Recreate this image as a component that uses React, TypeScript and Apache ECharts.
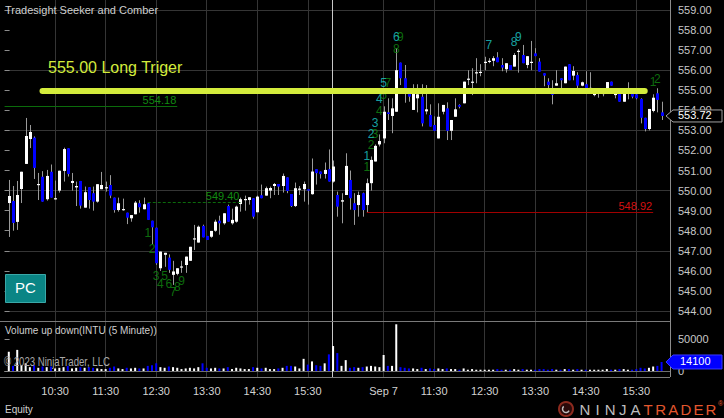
import React, { useEffect, useRef } from "react";
import * as echarts from "echarts";

// ---------- data (5-minute bars, Sep 6 and Sep 7) ----------
const opens = [
  549.38, 549.48, 548.44, 550.08, 551.33, 552.57, 552.64, 550.30, 550.69, 549.57,
  550.94, 549.60, 550.00, 550.98, 552.11, 550.38, 550.16, 550.48, 549.15, 550.17,
  549.87, 549.45, 550.07, 550.15, 550.28, 549.65, 549.03, 549.07, 548.90, 548.62,
  548.82, 549.37, 549.07, 549.37, 548.50, 548.15, 546.13, 546.80, 546.66, 545.80,
  545.85, 546.20, 546.29, 546.50, 547.60, 547.41, 548.24, 547.74, 547.70, 548.00,
  548.50, 548.37, 549.23, 548.37, 548.45, 549.33, 549.57, 549.53, 549.62, 548.92,
  549.77, 549.75, 550.00, 550.23, 550.33, 550.23, 550.66, 549.83, 549.23, 550.08,
  550.07, 550.07, 549.82, 551.07, 550.95, 550.83, 551.07, 550.45,
  549.78, 549.45, 549.78, 550.53, 549.37, 549.28, 549.87, 549.28, 550.37, 551.45,
  552.30, 552.60, 553.90, 553.72, 553.93, 556.38, 555.60, 554.98, 554.02, 554.60,
  554.68, 553.95, 553.77, 553.27, 552.60, 553.93, 554.10, 552.98, 553.68, 554.27,
  554.35, 555.52, 555.38, 555.88, 555.90, 556.40, 556.42, 556.47, 556.64, 556.26,
  556.05, 556.26, 556.18, 556.95, 556.76, 556.26, 556.40, 556.84, 556.43, 555.85,
  555.43, 554.93, 555.23, 555.60, 555.35, 556.30, 555.73, 555.76, 555.23, 555.30,
  555.10, 554.80, 554.90, 554.85, 554.95, 555.43, 554.80, 554.93, 554.43, 554.90,
  554.93, 554.80, 554.57, 553.63, 553.07, 553.97, 554.85, 553.90,
];
const closes = [
  549.73, 548.39, 549.78, 550.94, 552.72, 552.92, 551.13, 550.33, 549.45, 550.73,
  549.65, 549.62, 550.99, 552.07, 550.83, 550.48, 550.23, 549.25, 549.92, 549.53,
  549.45, 550.32, 550.28, 550.17, 549.75, 549.03, 549.37, 549.08, 548.65, 548.78,
  549.40, 549.17, 549.32, 548.54, 548.17, 546.38, 546.96, 546.90, 546.05, 545.97,
  546.13, 546.22, 546.71, 547.20, 547.62, 548.20, 547.67, 547.54, 547.99, 548.45,
  548.37, 548.87, 548.45, 548.54, 549.20, 549.57, 549.58, 549.67, 548.70, 549.70,
  549.62, 550.12, 550.13, 550.33, 550.20, 550.73, 549.98, 549.23, 550.12, 550.10,
  550.33, 550.00, 550.95, 550.87, 550.82, 551.03, 550.45, 551.20,
  549.20, 549.52, 551.23, 549.62, 549.03, 549.78, 549.03, 550.37, 551.53, 552.23,
  552.47, 553.93, 553.82, 554.10, 556.00, 555.60, 555.10, 554.68, 554.93, 554.80,
  553.35, 554.05, 553.19, 552.98, 553.68, 554.27, 552.98, 553.52, 554.05, 554.18,
  555.43, 555.58, 555.43, 555.90, 555.92, 556.42, 556.47, 556.60, 556.40, 556.13,
  556.35, 556.01, 556.76, 556.97, 556.35, 556.70, 556.42, 556.70, 555.93, 555.73,
  555.26, 554.77, 555.35, 555.50, 556.18, 555.50, 555.96, 555.23, 555.40, 554.93,
  555.12, 554.82, 554.92, 554.87, 555.41, 555.23, 554.82, 554.43, 554.96, 554.92,
  554.68, 554.60, 553.63, 553.07, 554.07, 554.63, 554.52, 553.72,
];
const lows = [
  547.69, 548.00, 548.04, 549.38, 551.33, 552.12, 550.58, 549.53, 549.45, 549.50,
  549.65, 549.55, 549.90, 550.45, 550.70, 550.00, 549.23, 549.10, 549.15, 549.10,
  549.00, 549.40, 550.07, 549.95, 549.62, 548.90, 548.95, 549.00, 548.33, 548.45,
  548.82, 548.90, 549.07, 548.54, 547.33, 546.30, 546.00, 546.20, 545.90, 545.30,
  545.78, 545.90, 545.90, 546.50, 547.04, 547.41, 547.67, 547.54, 547.65, 547.95,
  547.80, 548.30, 548.45, 548.30, 548.40, 548.95, 549.00, 549.30, 548.60, 548.92,
  549.62, 549.75, 549.62, 549.78, 549.78, 549.90, 549.87, 549.18, 549.18, 549.78,
  549.45, 549.30, 549.80, 550.30, 550.60, 550.60, 550.45, 550.40,
  548.70, 548.37, 549.78, 549.05, 548.29, 548.70, 548.70, 548.90, 550.00, 551.45,
  552.20, 552.36, 553.52, 552.86, 553.93, 555.26, 554.38, 554.43, 554.02, 553.90,
  553.20, 553.80, 553.19, 552.98, 552.60, 553.80, 552.52, 552.52, 553.68, 554.10,
  554.35, 555.26, 554.76, 555.35, 555.70, 556.00, 556.35, 556.20, 556.40, 555.95,
  555.88, 556.01, 556.18, 555.88, 556.35, 556.10, 556.00, 556.70, 555.93, 555.20,
  555.00, 554.30, 555.23, 555.00, 555.35, 555.50, 555.50, 555.10, 555.20, 554.93,
  555.00, 554.70, 554.63, 554.70, 554.90, 555.23, 554.60, 554.43, 554.43, 554.55,
  554.60, 554.55, 553.35, 552.95, 553.00, 553.90, 553.90, 553.52,
];
const highs = [
  550.53, 550.23, 550.48, 550.94, 553.62, 553.27, 552.70, 550.88, 550.97, 551.03,
  551.30, 550.50, 550.99, 552.14, 552.11, 550.88, 550.45, 550.48, 550.20, 550.17,
  550.20, 550.32, 550.93, 550.45, 550.77, 549.65, 549.65, 549.60, 548.90, 548.78,
  549.48, 549.52, 549.65, 549.40, 548.50, 548.15, 546.96, 546.90, 546.82, 546.50,
  546.13, 546.50, 546.71, 547.20, 548.29, 548.26, 548.30, 547.74, 547.99, 548.55,
  548.75, 548.87, 549.30, 549.10, 549.25, 549.65, 549.75, 549.67, 549.62, 549.75,
  550.30, 550.20, 550.20, 550.38, 550.33, 550.85, 550.66, 549.83, 550.40, 550.23,
  550.45, 550.07, 551.60, 551.07, 550.95, 551.40, 552.05, 551.50,
  549.95, 549.87, 551.86, 551.00, 549.87, 549.95, 549.90, 550.60, 551.70, 552.30,
  552.80, 554.20, 554.60, 554.60, 557.09, 556.38, 556.26, 554.98, 555.30, 555.30,
  555.30, 555.26, 554.30, 553.70, 554.35, 554.27, 554.40, 553.52, 554.60, 554.30,
  555.43, 556.00, 556.10, 556.60, 556.30, 556.67, 556.60, 556.70, 556.90, 556.60,
  556.35, 556.26, 556.85, 557.05, 557.26, 556.70, 557.46, 557.10, 556.60, 555.85,
  555.60, 555.50, 556.00, 555.60, 556.18, 556.30, 556.20, 555.90, 555.43, 555.95,
  555.90, 555.00, 555.10, 555.00, 555.41, 555.43, 555.00, 554.93, 554.96, 555.40,
  554.93, 554.85, 554.60, 553.63, 554.07, 554.80, 555.10, 554.43,
];
const volumes = [
  30000, 8000, 33000, 9000, 12000, 6000, 9000, 5000, 7000, 6000,
  7000, 4000, 5000, 6000, 8000, 4000, 5000, 6000, 5000, 6000,
  5000, 4000, 3000, 3000, 5000, 7000, 4000, 3000, 5000, 4000,
  5000, 4000, 4000, 8000, 9000, 12000, 6000, 5000, 7000, 6000,
  5000, 3000, 4000, 5000, 4000, 6000, 12000, 5000, 4000, 5000,
  4000, 4000, 6000, 3000, 5000, 4000, 3000, 3000, 6000, 5000,
  4000, 5000, 3000, 3000, 4000, 5000, 8000, 8000, 7000, 4000,
  19000, 10000, 15000, 9000, 8000, 12000, 26000, 39000,
  28000, 8000, 17000, 5000, 6000, 5000, 6000, 7000, 8000, 7000,
  6000, 25000, 8000, 8000, 73000, 6000, 5000, 4000, 4000, 3000,
  5000, 3000, 4000, 3000, 4000, 3000, 4000, 3000, 3000, 2000,
  4000, 2000, 3000, 2000, 2000, 2000, 2000, 2000, 3000, 2000,
  2000, 2000, 3000, 2000, 3000, 2000, 2000, 2000, 3000, 3000,
  2000, 3000, 2000, 2000, 3000, 3000, 2000, 3000, 2000, 2000,
  2000, 2000, 2000, 2000, 3000, 2000, 2000, 3000, 3000, 2000,
  2000, 3000, 5000, 4000, 5000, 7000, 8000, 14100,
];

const hourTickBars = [11, 23, 35, 47, 59, 71, 89, 101, 113, 125, 137, 149];
const hourTickLabels = ["10:30", "11:30", "12:30", "13:30", "14:30", "15:30", "Sep 7", "11:30", "12:30", "13:30", "14:30", "15:30"];
const priceTicks = { min: 544, max: 559 };
const volumeTicks = [0, 50000];

const longTrigger = 555.0;
const levelHigh = 554.18;
const levelMid = 549.4;
const levelLow = 548.92;

// count annotations: [text, bar index, price]
const greenCounts: [string, number, number][] = [
  ["1", 33, 547.9], ["2", 34, 547.07], ["3", 35, 545.76], ["4", 36, 545.34], ["5", 37, 545.76],
  ["6", 38, 545.34], ["7", 39, 544.95], ["8", 40, 545.21], ["9", 41, 545.51],
  ["1", 85, 551.16], ["2", 86, 552.27], ["3", 87, 552.82], ["4", 88, 553.98], ["5", 89, 554.76],
  ["7", 90, 555.36], ["8", 92, 557.06], ["9", 93, 557.64], ["1", 153, 555.4], ["2", 154, 555.56],
];
const cyanCounts: [string, number, number][] = [
  ["1", 85, 551.72], ["2", 86, 552.82], ["3", 87, 553.35], ["4", 88, 554.55], ["5", 89, 555.38],
  ["6", 92, 557.64], ["7", 114, 557.26], ["8", 120, 557.42], ["9", 121, 557.67],
];

// ---------- helpers ----------
function sessionTimes(day: string): string[] {
  const out: string[] = [];
  for (let m = 9 * 60 + 35; m <= 16 * 60; m += 5) {
    const h = Math.floor(m / 60);
    const mm = m % 60;
    out.push(`${day} ${String(h).padStart(2, "0")}:${String(mm).padStart(2, "0")}`);
  }
  return out;
}
const barTimes = [...sessionTimes("09/06"), ...sessionTimes("09/07")];
const categories = ["pad-start", ...barTimes, "pad-end-1", "pad-end-2"];

const FONT = "Arial, 'Liberation Sans', sans-serif";
const GRID_LEFT = 4.59;
const GRID_RIGHT_X = 670;
const GRID_W = GRID_RIGHT_X - GRID_LEFT;
const YELLOW = "#d4ec3c";
const GREEN = "#118a11";
const CYAN = "#1ecbcb";
const BLUE = "#0000ff";
const GRIDLINE = "#353535";

export default function App() {
  const ref = useRef<HTMLDivElement>(null);

  useEffect(() => {
    document.body.style.margin = "0";
    document.body.style.background = "#000";
    const chart = echarts.init(ref.current!, null, { renderer: "svg" });

    const isHourCat = (index: number) => hourTickBars.indexOf(index - 1) >= 0;

    const candleData = opens.map((o, i) => [i + 1, o, closes[i], lows[i], highs[i]]);
    const volData: any[] = ["-", ...volumes.map((v, i) => ({
      value: v,
      itemStyle: { color: closes[i] >= opens[i] ? "#ffffff" : BLUE },
    })), "-", "-"];

    const countData = [
      ...greenCounts.map(([t, b, p]) => ({ name: t, value: [b + 1, p], label: { color: GREEN } })),
      ...cyanCounts.map(([t, b, p]) => ({ name: t, value: [b + 1, p], label: { color: CYAN } })),
    ];

    const levelLabel = (text: string, color: string) => ({
      show: true, position: "insideEndTop", formatter: text, color, fontSize: 11, fontFamily: FONT, distance: 1,
    });

    const option: any = {
      animation: false,
      backgroundColor: "#000",
      grid: [
        { left: GRID_LEFT, width: GRID_W, top: 0, height: 321 },
        { left: GRID_LEFT, width: GRID_W, top: 10, height: 301 },
        { left: GRID_LEFT, width: GRID_W, top: 321, height: 56 },
        { left: GRID_LEFT, width: GRID_W, top: 339, height: 32 },
      ],
      xAxis: [
        {
          type: "category", gridIndex: 0, data: categories, boundaryGap: false,
          axisLine: { show: false }, axisTick: { show: false }, axisLabel: { show: false },
          splitLine: { show: true, interval: (i: number) => isHourCat(i), lineStyle: { color: GRIDLINE, width: 1 } },
        },
        { type: "value", gridIndex: 1, show: false, min: 0, max: 1 },
        {
          type: "category", gridIndex: 2, data: categories, boundaryGap: false,
          axisLine: { show: true, lineStyle: { color: "#6e6e6e" } },
          axisTick: { show: false },
          axisLabel: {
            interval: (i: number) => isHourCat(i),
            formatter: (_v: string, i: number) => {
              const k = hourTickBars.indexOf(i - 1);
              return k >= 0 ? hourTickLabels[k] : "";
            },
            color: "#d2d2d2", fontSize: 11, fontFamily: FONT, margin: 8,
          },
          splitLine: { show: true, interval: (i: number) => isHourCat(i), lineStyle: { color: GRIDLINE, width: 1 } },
        },
        { type: "value", gridIndex: 3, show: false, min: 0, max: 1 },
      ],
      yAxis: [
        { type: "value", gridIndex: 0, min: 543.5, max: 559.5, show: false },
        {
          type: "value", gridIndex: 1, position: "right", min: priceTicks.min, max: priceTicks.max, interval: 1,
          axisLine: { show: false },
          axisTick: { show: true, length: 5, lineStyle: { color: "#8c8c8c" } },
          axisLabel: { formatter: (v: number) => v.toFixed(2), color: "#c8c8c8", fontSize: 11, fontFamily: FONT, margin: 8 },
          splitLine: { show: false },
        },
        {
          type: "value", gridIndex: 1, position: "right", min: priceTicks.min, max: priceTicks.max, interval: 3,
          axisLine: { show: false }, axisTick: { show: false }, axisLabel: { show: false },
          splitLine: { show: true, lineStyle: { color: GRIDLINE, width: 1 } },
        },
        { type: "value", gridIndex: 2, min: -9375, max: 78125, show: false },
        {
          type: "value", gridIndex: 3, position: "right", min: volumeTicks[0], max: volumeTicks[1], interval: volumeTicks[1],
          axisLine: { show: false },
          axisTick: { show: true, length: 5, lineStyle: { color: "#8c8c8c" } },
          axisLabel: { formatter: (v: number) => String(v), color: "#c8c8c8", fontSize: 11, fontFamily: FONT, margin: 8 },
          splitLine: { show: false },
        },
      ],
      series: [
        {
          type: "custom",
          xAxisIndex: 0, yAxisIndex: 0,
          data: candleData,
          encode: { x: 0, y: [1, 2, 3, 4] },
          renderItem: (_p: any, api: any) => {
            const c = api.value(0), o = api.value(1), cl = api.value(2), lo = api.value(3), hi = api.value(4);
            const pHi = api.coord([c, hi]);
            const pLo = api.coord([c, lo]);
            const pO = api.coord([c, o]);
            const pC = api.coord([c, cl]);
            const x = Math.round(pHi[0]);
            const top = Math.min(pO[1], pC[1]);
            const h = Math.max(Math.abs(pO[1] - pC[1]), 1.2);
            const up = cl >= o;
            return {
              type: "group",
              children: [
                { type: "line", shape: { x1: x + 0.5, y1: pHi[1], x2: x + 0.5, y2: pLo[1] }, style: { stroke: "#9a9a9a", lineWidth: 1 } },
                { type: "rect", shape: { x: x - 1, y: top, width: 3, height: h }, style: { fill: up ? "#ffffff" : BLUE } },
              ],
            };
          },
          z: 2,
        },
        {
          type: "scatter",
          xAxisIndex: 0, yAxisIndex: 0,
          data: countData,
          symbolSize: 1,
          itemStyle: { color: "rgba(0,0,0,0)" },
          label: { show: true, position: "inside", formatter: "{b}", fontSize: 12, fontFamily: FONT },
          markLine: {
            silent: true,
            symbol: ["none", "none"],
            animation: false,
            data: [
              [
                { coord: [0, levelHigh], lineStyle: { color: "#0b6b0b", width: 1, type: "solid" }, label: levelLabel(levelHigh.toFixed(2), GREEN) },
                { coord: [41, levelHigh] },
              ],
              [
                { coord: [34, levelMid], lineStyle: { color: "#0b6b0b", width: 1, type: [3, 2] }, label: levelLabel(levelMid.toFixed(2), GREEN) },
                { coord: [56, levelMid] },
              ],
              [
                { coord: [86, levelLow], lineStyle: { color: "#a00000", width: 1, type: "solid" }, label: levelLabel(levelLow.toFixed(2), "#d41010") },
                { coord: [154, levelLow] },
              ],
              [
                { coord: [9, longTrigger], lineStyle: { color: YELLOW, width: 6, type: "solid", cap: "round" }, label: { show: false } },
                { coord: [152, longTrigger] },
              ],
            ],
          },
          z: 3,
        },
        {
          type: "bar",
          xAxisIndex: 2, yAxisIndex: 3,
          data: volData,
          barWidth: 2,
          z: 2,
        },
      ],
    };

    chart.setOption(option);

    const last = closes.length - 1;
    const py = chart.convertToPixel({ gridIndex: 0 } as any, [last + 1, closes[last]]) as number[];
    const vy = chart.convertToPixel({ gridIndex: 2 } as any, [last + 1, volumes[last]]) as number[];
    const priceY = py[1];
    const volY = vy[1];

    const logoLetters = "NINJATRADER".split("").map((ch, i) => ({
      type: "text",
      x: 585 + i * 12.6,
      y: 409,
      style: { text: ch, fill: i < 5 ? "#bdbdbd" : "#e4572e", font: `15px ${FONT}`, align: "center", verticalAlign: "middle" },
      z: 100,
    }));

    const graphic: any[] = [
      { type: "line", shape: { x1: GRID_RIGHT_X + 0.5, y1: 0, x2: GRID_RIGHT_X + 0.5, y2: 377 }, style: { stroke: "#8c8c8c", lineWidth: 1 }, z: 50 },
      { type: "line", shape: { x1: 0, y1: 321.5, x2: GRID_RIGHT_X, y2: 321.5 }, style: { stroke: "#7a7a7a", lineWidth: 1 }, z: 50 },
      { type: "line", shape: { x1: 0, y1: 377.5, x2: GRID_RIGHT_X, y2: 377.5 }, style: { stroke: "#7a7a7a", lineWidth: 1 }, z: 50 },
      { type: "line", shape: { x1: 332.5, y1: 0, x2: 332.5, y2: 377 }, style: { stroke: "#c8c8c8", lineWidth: 1 }, z: 1 },
      { type: "text", left: 5, top: 4, style: { text: "Tradesight Seeker and Comber", fill: "#cfcfcf", font: `11px ${FONT}` }, z: 60 },
      { type: "text", left: 48, top: 59, style: { text: "555.00 Long Triger", fill: YELLOW, font: `16px ${FONT}` }, z: 60 },
      { type: "rect", shape: { x: 5.5, y: 274.5, width: 40, height: 28 }, style: { fill: "#0a8585", stroke: "#3aa8a8", lineWidth: 1 }, z: 60 },
      { type: "text", left: 15, top: 280, style: { text: "PC", fill: "#ffffff", font: `15px ${FONT}` }, z: 61 },
      { type: "text", left: 5, top: 325, style: { text: "Volume up down(INTU (5 Minute))", fill: "#cfcfcf", font: `10px ${FONT}` }, z: 60 },
      {
        type: "text", x: 4, y: 362, scaleX: 0.8, originX: 0, originY: 0,
        style: { text: "© 2023 NinjaTrader, LLC", fill: "#a8a8a8", font: `12px ${FONT}`, align: "left", verticalAlign: "middle" }, z: 60,
      },
      { type: "text", left: 5, top: 404, style: { text: "Equity", fill: "#d0d0d0", font: `10px ${FONT}` }, z: 60 },
      // last price marker
      {
        type: "polygon",
        shape: { points: [[666, priceY], [673, priceY - 6], [722, priceY - 6], [722, priceY + 6], [673, priceY + 6]] },
        style: { fill: "#000", stroke: "#a0a0a0", lineWidth: 1 }, z: 90,
      },
      { type: "text", left: 678, top: priceY - 6, style: { text: closes[last].toFixed(2), fill: "#ffffff", font: `11px ${FONT}` }, z: 91 },
      // last volume marker
      {
        type: "polygon",
        shape: { points: [[666, volY], [673, volY - 7], [722, volY - 7], [722, volY + 7], [673, volY + 7]] },
        style: { fill: BLUE, stroke: "#3a3aff", lineWidth: 1 }, z: 90,
      },
      { type: "text", left: 680, top: volY - 6, style: { text: String(volumes[last]), fill: "#ffffff", font: `11px ${FONT}` }, z: 91 },
      // logo
      { type: "circle", shape: { cx: 566, cy: 409, r: 7 }, style: { fill: "#2a0a0a", stroke: "#8c2a1e", lineWidth: 2 }, z: 100 },
      { type: "arc", shape: { cx: 566, cy: 409, r: 3.5, startAngle: 0.5, endAngle: 4 }, style: { stroke: "#bdbdbd", lineWidth: 1.5, fill: "none" }, z: 101 },
      ...logoLetters,
      { type: "text", left: 718, top: 400, style: { text: "®", fill: "#e4572e", font: `7px ${FONT}` }, z: 100 },
    ];

    chart.setOption({ graphic });

    return () => chart.dispose();
  }, []);

  return (
    <div
      ref={ref}
      style={{ position: "fixed", left: 0, top: 0, width: 724, height: 418, background: "#000" }}
    />
  );
}
